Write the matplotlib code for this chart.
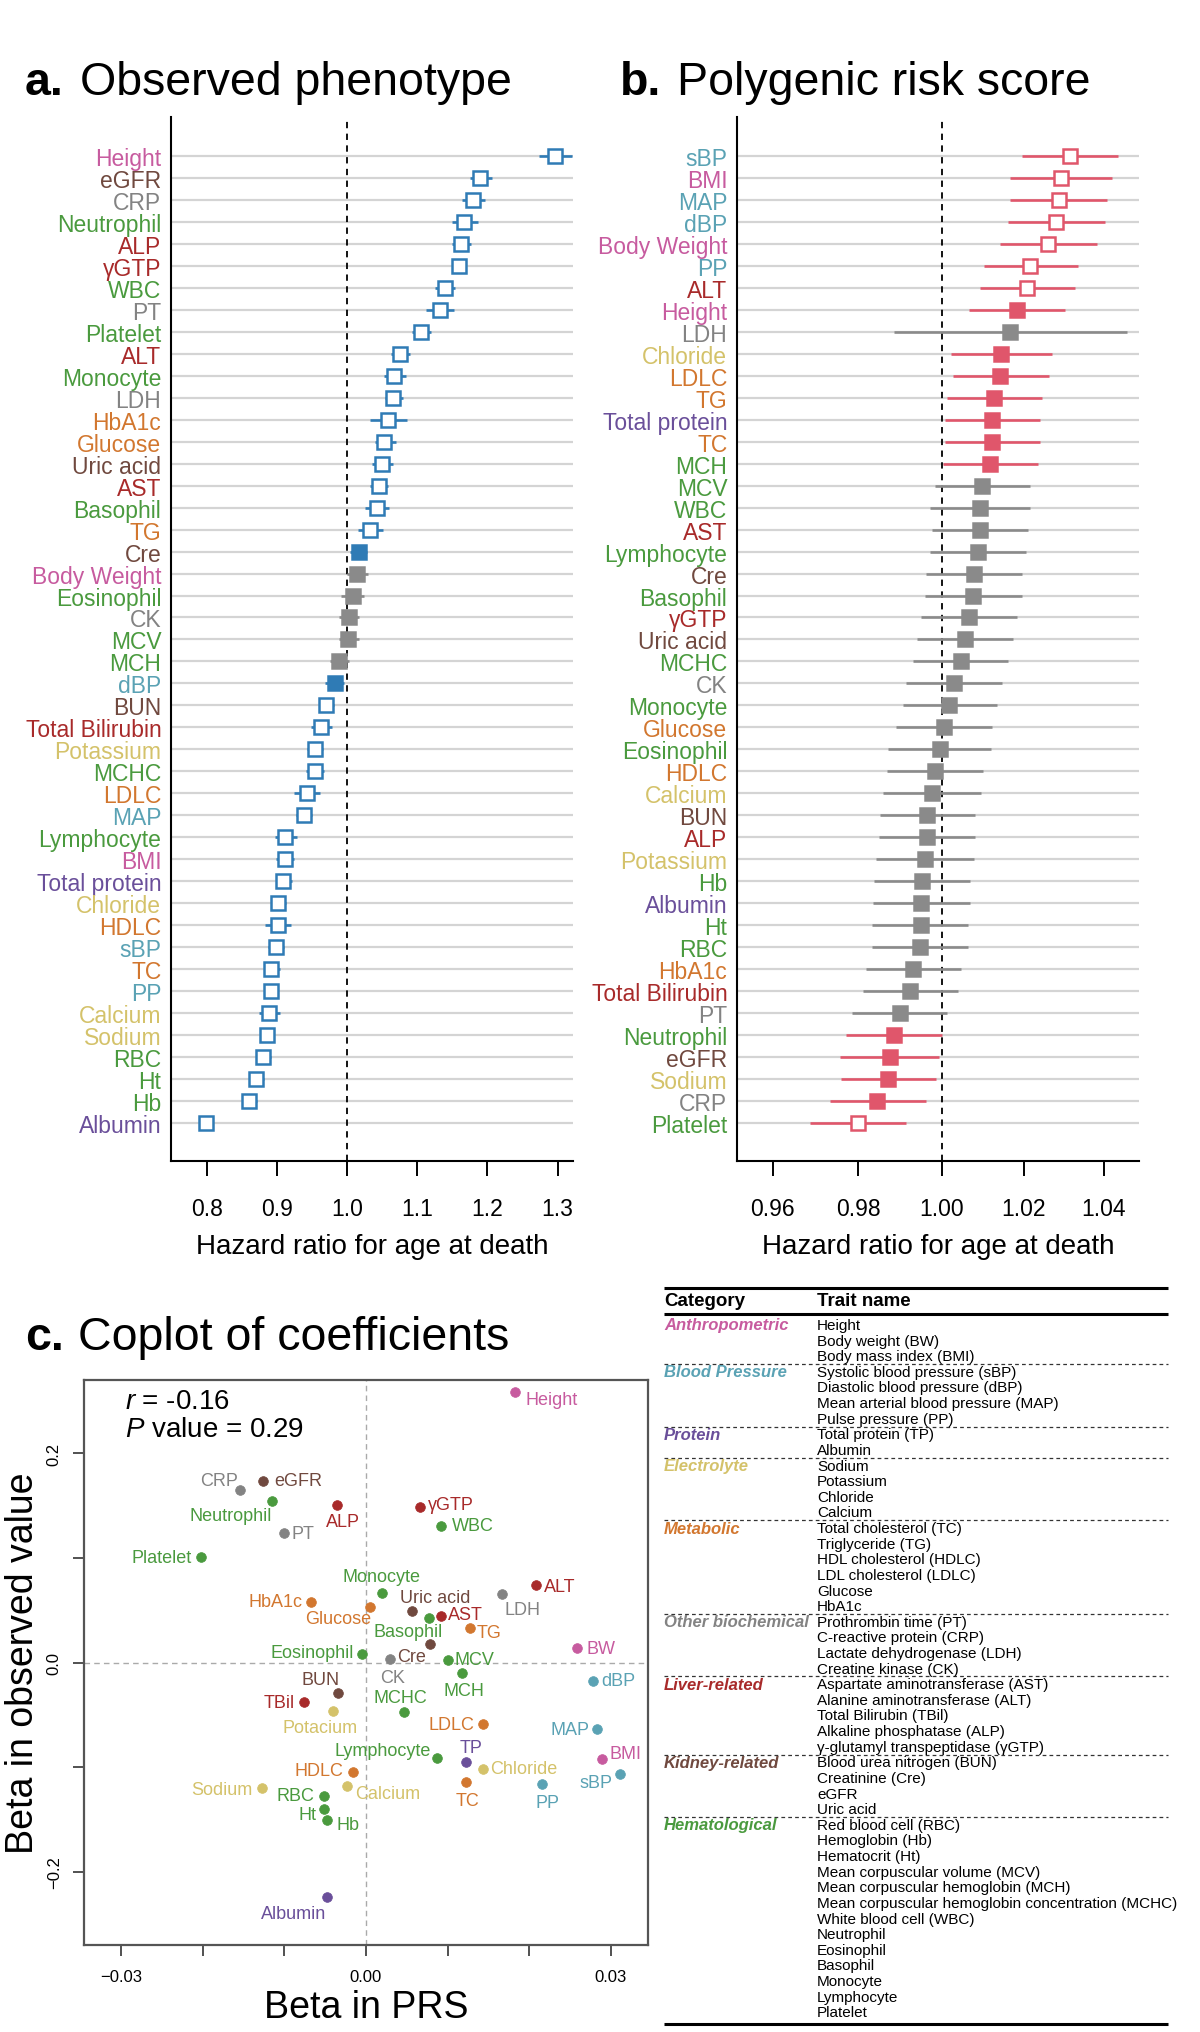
import matplotlib
matplotlib.use("Agg")
import matplotlib.pyplot as plt
from matplotlib.ticker import NullLocator, FixedLocator
import numpy as np

plt.rcParams['font.family'] = ['Liberation Sans', 'DejaVu Sans']
plt.rcParams['mathtext.fontset'] = 'custom'
plt.rcParams['mathtext.it'] = 'Liberation Sans:italic'
plt.rcParams['mathtext.rm'] = 'Liberation Sans'

# ---------------- categories ----------------
cat_colors = {
    'Anthropometric': '#c75b9f',
    'Blood Pressure': '#5aa2b4',
    'Protein': '#6a4f9a',
    'Electrolyte': '#d4c26a',
    'Metabolic': '#d2772f',
    'Other biochemical': '#838383',
    'Liver-related': '#a82a2a',
    'Kidney-related': '#70493f',
    'Hematological': '#4a9a3e',
}
trait_category = {
    'Height': 'Anthropometric', 'Body Weight': 'Anthropometric', 'BMI': 'Anthropometric',
    'sBP': 'Blood Pressure', 'dBP': 'Blood Pressure', 'MAP': 'Blood Pressure', 'PP': 'Blood Pressure',
    'Total protein': 'Protein', 'Albumin': 'Protein',
    'Sodium': 'Electrolyte', 'Potassium': 'Electrolyte', 'Chloride': 'Electrolyte', 'Calcium': 'Electrolyte',
    'TC': 'Metabolic', 'TG': 'Metabolic', 'HDLC': 'Metabolic', 'LDLC': 'Metabolic', 'Glucose': 'Metabolic', 'HbA1c': 'Metabolic',
    'PT': 'Other biochemical', 'CRP': 'Other biochemical', 'LDH': 'Other biochemical', 'CK': 'Other biochemical',
    'AST': 'Liver-related', 'ALT': 'Liver-related', 'Total Bilirubin': 'Liver-related', 'ALP': 'Liver-related', 'γGTP': 'Liver-related',
    'BUN': 'Kidney-related', 'Cre': 'Kidney-related', 'eGFR': 'Kidney-related', 'Uric acid': 'Kidney-related',
    'RBC': 'Hematological', 'Hb': 'Hematological', 'Ht': 'Hematological', 'MCV': 'Hematological', 'MCH': 'Hematological',
    'MCHC': 'Hematological', 'WBC': 'Hematological', 'Neutrophil': 'Hematological', 'Eosinophil': 'Hematological',
    'Basophil': 'Hematological', 'Monocyte': 'Hematological', 'Lymphocyte': 'Hematological', 'Platelet': 'Hematological',
}

# ---------------- panel a data ----------------
traits_a = ['Height', 'eGFR', 'CRP', 'Neutrophil', 'ALP', 'γGTP', 'WBC', 'PT', 'Platelet', 'ALT',
            'Monocyte', 'LDH', 'HbA1c', 'Glucose', 'Uric acid', 'AST', 'Basophil', 'TG', 'Cre',
            'Body Weight', 'Eosinophil', 'CK', 'MCV', 'MCH', 'dBP', 'BUN', 'Total Bilirubin',
            'Potassium', 'MCHC', 'LDLC', 'MAP', 'Lymphocyte', 'BMI', 'Total protein', 'Chloride',
            'HDLC', 'sBP', 'TC', 'PP', 'Calcium', 'Sodium', 'RBC', 'Ht', 'Hb', 'Albumin']
hr_a = [1.296, 1.189, 1.180, 1.167, 1.162, 1.160, 1.139, 1.132, 1.105, 1.075,
        1.067, 1.066, 1.058, 1.053, 1.050, 1.045, 1.042, 1.033, 1.017,
        1.0135, 1.008, 1.003, 1.0015, 0.989, 0.9825, 0.970, 0.963,
        0.954, 0.954, 0.943, 0.938, 0.912, 0.911, 0.909, 0.902,
        0.901, 0.898, 0.892, 0.891, 0.888, 0.886, 0.880, 0.870, 0.860, 0.7995]
lo_a = [1.273, 1.175, 1.164, 1.150, 1.150, 1.151, 1.126, 1.112, 1.093, 1.063,
        1.052, 1.054, 1.033, 1.040, 1.036, 1.033, 1.026, 1.016, 1.004,
        1.000, 0.992, 0.989, 0.9885, 0.976, 0.969, 0.961, 0.949,
        0.943, 0.942, 0.924, 0.927, 0.897, 0.899, 0.898, 0.893,
        0.883, 0.887, 0.881, 0.882, 0.875, 0.877, 0.870, 0.860, 0.850, 0.795]
hi_a = [1.320, 1.206, 1.196, 1.186, 1.176, 1.169, 1.154, 1.153, 1.120, 1.090,
        1.084, 1.079, 1.086, 1.069, 1.065, 1.059, 1.060, 1.051, 1.029,
        1.030, 1.024, 1.017, 1.017, 1.003, 0.995, 0.981, 0.978,
        0.965, 0.967, 0.962, 0.950, 0.929, 0.924, 0.921, 0.913,
        0.920, 0.910, 0.905, 0.902, 0.904, 0.896, 0.891, 0.882, 0.872, 0.804]
# 'o' = open (significant), 'f' = filled (nominal), 'n' = not significant
sig_a = ['o'] * 18 + ['f', 'n', 'n', 'n', 'n', 'n', 'f'] + ['o'] * 20

# ---------------- panel b data ----------------
traits_b = ['sBP', 'BMI', 'MAP', 'dBP', 'Body Weight', 'PP', 'ALT', 'Height', 'LDH', 'Chloride',
            'LDLC', 'TG', 'Total protein', 'TC', 'MCH', 'MCV', 'WBC', 'AST', 'Lymphocyte', 'Cre',
            'Basophil', 'γGTP', 'Uric acid', 'MCHC', 'CK', 'Monocyte', 'Glucose', 'Eosinophil',
            'HDLC', 'Calcium', 'BUN', 'ALP', 'Potassium', 'Hb', 'Albumin', 'Ht', 'RBC', 'HbA1c',
            'Total Bilirubin', 'PT', 'Neutrophil', 'eGFR', 'Sodium', 'CRP', 'Platelet']
hr_b = [1.0316, 1.0294, 1.0287, 1.0280, 1.0260, 1.0217, 1.0209, 1.0183, 1.0167, 1.0144,
        1.0143, 1.0128, 1.0123, 1.0123, 1.0118, 1.0099, 1.0092, 1.0092, 1.0088, 1.0079,
        1.0076, 1.0066, 1.0056, 1.0046, 1.0030, 1.0019, 1.0006, 0.9995,
        0.9983, 0.9977, 0.9965, 0.9964, 0.9959, 0.9952, 0.9951, 0.9949, 0.9948, 0.9932,
        0.9924, 0.9899, 0.9885, 0.9875, 0.9872, 0.9846, 0.9799]
lo_b = [1.0197, 1.0167, 1.0167, 1.0163, 1.0141, 1.0104, 1.0092, 1.0066, 0.9885, 1.0022,
        1.0028, 1.0012, 1.0007, 1.0007, 1.0003, 0.9984, 0.9972, 0.9977, 0.9972, 0.9963,
        0.9959, 0.9950, 0.9941, 0.9932, 0.9913, 0.9906, 0.9890, 0.9872,
        0.9868, 0.9860, 0.9851, 0.9850, 0.9842, 0.9837, 0.9835, 0.9834, 0.9834, 0.9818,
        0.9812, 0.9785, 0.9772, 0.9758, 0.9759, 0.9734, 0.9686]
hi_b = [1.0437, 1.0420, 1.0409, 1.0404, 1.0384, 1.0336, 1.0329, 1.0303, 1.0459, 1.0270,
        1.0262, 1.0246, 1.0242, 1.0242, 1.0235, 1.0217, 1.0215, 1.0210, 1.0205, 1.0197,
        1.0196, 1.0185, 1.0173, 1.0163, 1.0147, 1.0136, 1.0122, 1.0120,
        1.0100, 1.0096, 1.0082, 1.0080, 1.0078, 1.0068, 1.0069, 1.0065, 1.0065, 1.0047,
        1.0040, 1.0014, 1.0001, 0.9994, 0.9987, 0.9962, 0.9915]
sig_b = ['o'] * 7 + ['f', 'n'] + ['f'] * 6 + ['n'] * 25 + ['f'] * 4 + ['o']

# ---------------- panel c data ----------------
names_c = ['Height', 'CRP', 'eGFR', 'Neutrophil', 'ALP', 'γGTP', 'WBC', 'PT', 'Platelet', 'Monocyte',
           'HbA1c', 'Glucose', 'Uric acid', 'AST', 'Basophil', 'LDH', 'ALT', 'TG', 'Cre', 'BW',
           'Eosinophil', 'CK', 'MCV', 'MCH', 'dBP', 'BUN', 'TBil', 'Potacium', 'MCHC', 'LDLC',
           'MAP', 'Lymphocyte', 'TP', 'Chloride', 'BMI', 'sBP', 'HDLC', 'TC', 'PP', 'Sodium',
           'Calcium', 'RBC', 'Ht', 'Hb', 'Albumin']
cat_c = ['Anthropometric', 'Other biochemical', 'Kidney-related', 'Hematological', 'Liver-related',
         'Liver-related', 'Hematological', 'Other biochemical', 'Hematological', 'Hematological',
         'Metabolic', 'Metabolic', 'Kidney-related', 'Liver-related', 'Hematological',
         'Other biochemical', 'Liver-related', 'Metabolic', 'Kidney-related', 'Anthropometric',
         'Hematological', 'Other biochemical', 'Hematological', 'Hematological', 'Blood Pressure',
         'Kidney-related', 'Liver-related', 'Electrolyte', 'Hematological', 'Metabolic',
         'Blood Pressure', 'Hematological', 'Protein', 'Electrolyte', 'Anthropometric',
         'Blood Pressure', 'Metabolic', 'Metabolic', 'Blood Pressure', 'Electrolyte',
         'Electrolyte', 'Hematological', 'Hematological', 'Hematological', 'Protein']
prs_beta = [0.01825, -0.0154, -0.0126, -0.01155, -0.0036, 0.00665, 0.00925, -0.0101, -0.02025, 0.0020,
            -0.0068, 0.00055, 0.00565, 0.0092, 0.0077, 0.01665, 0.02085, 0.01275, 0.0079, 0.02585,
            -0.00045, 0.00295, 0.0100, 0.0118, 0.0278, -0.00345, -0.0076, -0.0040, 0.00465, 0.0143,
            0.0284, 0.00875, 0.0123, 0.0144, 0.0290, 0.03115, -0.0016, 0.0123, 0.02165, -0.0128,
            -0.0023, -0.00515, -0.0051, -0.00475, -0.0048]
obs_beta = [0.2581, 0.1651, 0.1737, 0.1543, 0.1502, 0.1486, 0.1305, 0.1241, 0.1006, 0.0663,
            0.0575, 0.0527, 0.0495, 0.0448, 0.0422, 0.0651, 0.0737, 0.0330, 0.0173, 0.0134,
            0.0086, 0.0029, 0.0026, -0.0102, -0.0173, -0.0291, -0.0374, -0.0466, -0.0473, -0.0591,
            -0.0639, -0.0914, -0.0955, -0.1022, -0.0920, -0.1070, -0.1042, -0.1144, -0.1157, -0.1204,
            -0.1185, -0.1275, -0.1396, -0.1505, -0.2240]
# label placement (offset in pixels, horizontal alignment)
label_pos = {
    'Height': (11, -7, 'left'), 'CRP': (-2, 9, 'right'), 'eGFR': (11, 0, 'left'),
    'Neutrophil': (0, -14, 'right'), 'ALP': (6, -16, 'center'), 'γGTP': (8, 3, 'left'),
    'WBC': (11, 0, 'left'), 'PT': (8, -1, 'left'), 'Platelet': (-9, 0, 'right'),
    'Monocyte': (-1, 17, 'center'), 'HbA1c': (-8, 1, 'right'), 'Glucose': (1, -11, 'right'),
    'Uric acid': (-12, 13, 'left'), 'AST': (7, 1, 'left'), 'Basophil': (-21, -13, 'center'),
    'LDH': (3, -15, 'left'), 'ALT': (8, -1, 'left'), 'TG': (7, -5, 'left'),
    'Cre': (-4, -12, 'right'), 'BW': (10, 0, 'left'), 'Eosinophil': (-8, 1, 'right'),
    'CK': (3, -18, 'center'), 'MCV': (7, 0, 'left'), 'MCH': (2, -17, 'center'),
    'dBP': (9, 0, 'left'), 'BUN': (-17, 13, 'center'), 'TBil': (-9, -1, 'right'),
    'Potacium': (-13, -16, 'center'), 'MCHC': (-4, 14, 'center'), 'LDLC': (-8, 0, 'right'),
    'MAP': (-8, 0, 'right'), 'Lymphocyte': (-6, 8, 'right'), 'TP': (5, 15, 'center'),
    'Chloride': (7, 1, 'left'), 'BMI': (7, 5, 'left'), 'sBP': (-7, -8, 'right'),
    'HDLC': (-10, 1, 'right'), 'TC': (1, -18, 'center'), 'PP': (5, -19, 'center'),
    'Sodium': (-9, -1, 'right'), 'Calcium': (8, -7, 'left'), 'RBC': (-10, 0, 'right'),
    'Ht': (-8, -6, 'right'), 'Hb': (9, -5, 'left'), 'Albumin': (-33, -17, 'center'),
}

# ---------------- table data ----------------
table_groups = [
    ('Anthropometric', ['Height', 'Body weight (BW)', 'Body mass index (BMI)']),
    ('Blood Pressure', ['Systolic blood pressure (sBP)', 'Diastolic blood pressure (dBP)',
                        'Mean arterial blood pressure (MAP)', 'Pulse pressure (PP)']),
    ('Protein', ['Total protein (TP)', 'Albumin']),
    ('Electrolyte', ['Sodium', 'Potassium', 'Chloride', 'Calcium']),
    ('Metabolic', ['Total cholesterol (TC)', 'Triglyceride (TG)', 'HDL cholesterol (HDLC)',
                   'LDL cholesterol (LDLC)', 'Glucose', 'HbA1c']),
    ('Other biochemical', ['Prothrombin time (PT)', 'C-reactive protein (CRP)',
                           'Lactate dehydrogenase (LDH)', 'Creatine kinase (CK)']),
    ('Liver-related', ['Aspartate aminotransferase (AST)', 'Alanine aminotransferase (ALT)',
                       'Total Bilirubin (TBil)', 'Alkaline phosphatase (ALP)',
                       'γ-glutamyl transpeptidase (γGTP)']),
    ('Kidney-related', ['Blood urea nitrogen (BUN)', 'Creatinine (Cre)', 'eGFR', 'Uric acid']),
    ('Hematological', ['Red blood cell (RBC)', 'Hemoglobin (Hb)', 'Hematocrit (Ht)',
                       'Mean corpuscular volume (MCV)', 'Mean corpuscular hemoglobin (MCH)',
                       'Mean corpuscular hemoglobin concentration (MCHC)', 'White blood cell (WBC)',
                       'Neutrophil', 'Eosinophil', 'Basophil', 'Monocyte', 'Lymphocyte', 'Platelet']),
]

# ================= drawing =================
fig = plt.figure(figsize=(12, 20.33), dpi=100)
W, H = 1200, 2033


def fax(x0, y0, x1, y1):
    return fig.add_axes([x0 / W, 1 - y1 / H, (x1 - x0) / W, (y1 - y0) / H])


BLUE = '#2f7bb5'
PINK = '#e0566b'
GRAY = '#8a8a8a'


def forest(ax, traits, hr, lo, hi, sig, col, xlim, xticks, xticklabels, logx=False):
    n = len(traits)
    ys = np.arange(n)[::-1]
    if logx:
        ax.set_xscale('log')
    for y, t, h, l, u, s in zip(ys, traits, hr, lo, hi, sig):
        c = GRAY if s == 'n' else col
        ax.plot([l, u], [y, y], color=c, lw=1.9, solid_capstyle='butt', zorder=3)
        fc = 'white' if s == 'o' else c
        ax.plot([h], [y], marker='s', ms=9.5, mfc=fc, mec=c, mew=1.8, zorder=4)
    ax.axvline(1.0, color='black', lw=1.3, ls=(0, (3.5, 3)), zorder=2)
    ax.set_xlim(*xlim)
    ax.set_ylim(-1.75, n - 1 + 1.79)
    ax.set_yticks(ys)
    ax.set_yticklabels(traits, fontsize=16.5)
    for lab, t in zip(ax.get_yticklabels(), traits):
        lab.set_color(cat_colors[trait_category[t]])
    ax.tick_params(axis='y', length=0, pad=7)
    ax.xaxis.set_major_locator(FixedLocator(xticks))
    ax.xaxis.set_minor_locator(NullLocator())
    ax.set_xticklabels(xticklabels, fontsize=16.5)
    ax.tick_params(axis='x', direction='out', length=11, width=1.4, pad=15)
    ax.grid(axis='y', color='#d4d4d4', lw=1.6, zorder=0)
    ax.set_axisbelow(True)
    for sp in ['top', 'right']:
        ax.spines[sp].set_visible(False)
    for sp in ['left', 'bottom']:
        ax.spines[sp].set_linewidth(1.5)
    ax.set_xlabel('Hazard ratio for age at death', fontsize=20, labelpad=9)


ax_a = fax(171, 118, 573, 1162)
forest(ax_a, traits_a, hr_a, lo_a, hi_a, sig_a, BLUE, (0.749, 1.322),
       [0.8, 0.9, 1.0, 1.1, 1.2, 1.3], ['0.8', '0.9', '1.0', '1.1', '1.2', '1.3'])

ax_b = fax(737, 118, 1139, 1162)
forest(ax_b, traits_b, hr_b, lo_b, hi_b, sig_b, PINK, (0.9517, 1.0489),
       [0.96, 0.98, 1.00, 1.02, 1.04], ['0.96', '0.98', '1.00', '1.02', '1.04'], logx=True)

# ---- panel c ----
ax_c = fax(84, 1381, 648, 1946)
ax_c.axhline(0, color='#aaaaaa', lw=1.0, ls=(0, (4, 3)), zorder=1)
ax_c.axvline(0, color='#aaaaaa', lw=1.0, ls=(0, (4, 3)), zorder=1)
for nm, cat, xv, yv in zip(names_c, cat_c, prs_beta, obs_beta):
    col = cat_colors[cat]
    ax_c.plot([xv], [yv], marker='o', ms=7, mfc=col, mec=col, mew=0.5, zorder=3)
    dx, dy, ha = label_pos[nm]
    ax_c.annotate(nm, (xv, yv), xytext=(dx, dy), textcoords='offset pixels',
                  ha=ha, va='center', fontsize=13, color=col, zorder=4)
ax_c.set_xlim(-0.0346, 0.0346)
ax_c.set_ylim(-0.27, 0.27)
ax_c.set_xticks([-0.03, -0.02, -0.01, 0.0, 0.01, 0.02, 0.03])
ax_c.set_xticklabels(['−0.03', '', '', '0.00', '', '', '0.03'], fontsize=12)
ax_c.set_yticks([-0.2, -0.1, 0.0, 0.1, 0.2])
ax_c.set_yticklabels(['−0.2', '', '0.0', '', '0.2'], fontsize=12, rotation=90, va='center')
ax_c.tick_params(axis='both', direction='out', length=8, width=1.2, color='#333333')
ax_c.tick_params(axis='x', pad=9)
ax_c.tick_params(axis='y', pad=8)
for sp in ax_c.spines.values():
    sp.set_color('#555555')
    sp.set_linewidth(1.6)
ax_c.set_xlabel('Beta in PRS', fontsize=27, labelpad=4)
ax_c.set_ylabel('Beta in observed value', fontsize=27, labelpad=4)
ax_c.text(0.072, 0.963, r'$r$ = -0.16', transform=ax_c.transAxes, fontsize=20, va='center')
ax_c.text(0.072, 0.914, r'$P$ value = 0.29', transform=ax_c.transAxes, fontsize=20, va='center')

# ---- overlay: titles and table ----
ov = fig.add_axes([0, 0, 1, 1])
ov.set_xlim(0, W)
ov.set_ylim(H, 0)
ov.axis('off')

for (lx, tx, y, letter, title) in [(25, 80, 95, 'a.', 'Observed phenotype'),
                                   (620, 677, 95, 'b.', 'Polygenic risk score'),
                                   (25, 78, 1350, 'c.', 'Coplot of coefficients')]:
    ov.text(lx, y, letter, fontsize=33.5, fontweight='bold', va='baseline', ha='left')
    ov.text(tx, y, title, fontsize=33.5, va='baseline', ha='left')

# table
tx0, tx1, tcol = 664, 1168, 817
ov.plot([tx0, tx1], [1288.5, 1288.5], color='black', lw=2.2, solid_capstyle='butt')
ov.text(tx0, 1302, 'Category', fontsize=13.5, fontweight='bold', va='center', ha='left')
ov.text(tcol, 1302, 'Trait name', fontsize=13.5, fontweight='bold', va='center', ha='left')
ov.plot([tx0, tx1], [1314.5, 1314.5], color='black', lw=2.2, solid_capstyle='butt')
step = 15.62
yline = 1326.0
for gi, (cat, items) in enumerate(table_groups):
    ov.text(tx0, yline, cat, fontsize=12, fontweight='bold', fontstyle='italic',
            color=cat_colors[cat], va='center', ha='left')
    for it in items:
        ov.text(tcol, yline, it, fontsize=11, va='center', ha='left', color='black')
        yline += step
    if gi < len(table_groups) - 1:
        ysep = yline - step / 2
        ov.plot([tx0, tx1], [ysep, ysep], color='#333333', lw=0.9, ls=(0, (3, 2.5)))
ov.plot([tx0, tx1], [yline - step + 11.7, yline - step + 11.7], color='black', lw=2.2,
        solid_capstyle='butt')

fig.savefig('out.png', dpi=100)
